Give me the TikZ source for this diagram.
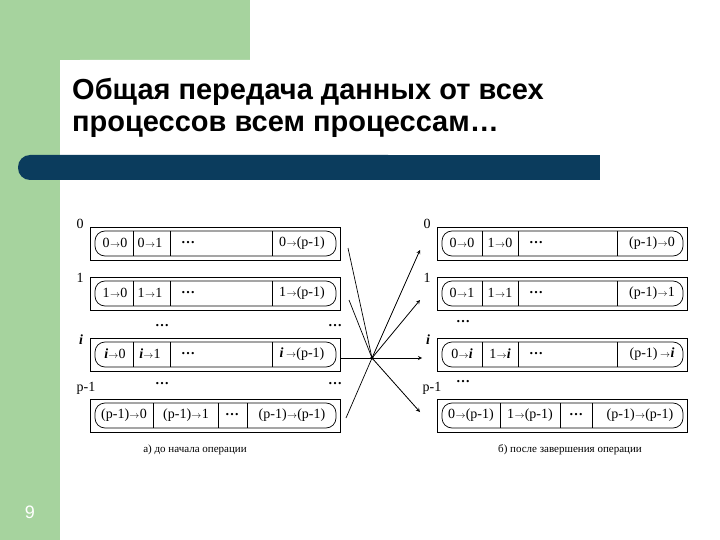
\documentclass[tikz,border=0pt]{standalone}
\usepackage{fontspec}
\setmainfont{Liberation Serif}
\newfontfamily\titlefont{Liberation Sans}
\begin{document}
\begin{tikzpicture}[x=1pt,y=-1pt,
  outer/.style={draw,line width=0.9pt},
  inner/.style={draw,line width=0.7pt,rounded corners=10pt},
  cell/.style={font=\fontsize{14}{15}\selectfont,anchor=center,inner sep=0pt},
  lab/.style={font=\fontsize{14}{15}\selectfont,inner sep=0pt},
  dots/.style={font=\bfseries\fontsize{14}{15}\selectfont,inner sep=0pt},
  ln/.style={line width=0.7pt},
  arr/.style={line width=0.8pt,-stealth}]
\useasboundingbox (0,0) rectangle (720,540);
\fill[white] (0,0) rectangle (720,540);
\definecolor{gr}{HTML}{A6D39E}
\definecolor{bl}{HTML}{0B3C5D}
\fill[gr] (0,0) rectangle (60,540);
\fill[gr] (0,0) rectangle (250,60);
\fill[white,rounded corners=20pt] (60,60) rectangle (740,560);
\fill[bl,rounded corners=12pt] (18,155) rectangle (400,180);
\fill[bl] (300,155) rectangle (600,180);
\node[font=\titlefont\bfseries\fontsize{29}{31}\selectfont,anchor=west,inner sep=0pt] (t1) at (72,92) {Общая передача данных от всех};
\node[font=\titlefont\bfseries\fontsize{29}{31}\selectfont,anchor=west,inner sep=0pt] (t2) at (72,127) {процессов всем процессам…};
\node[font=\titlefont\fontsize{18}{20}\selectfont,white] (num) at (30,512) {9};
\newcommand{\tr}{\kern0.3pt{\fontsize{10}{10}\selectfont$\to$}\kern0.3pt}
\foreach \yt in {227,277,338,399}{
  \draw[outer] (90,\yt) rectangle (340,\yt+33);
  \draw[inner] (95,\yt+4) rectangle (336,\yt+29);
  \draw[outer] (437,\yt) rectangle (687,\yt+33);
  \draw[inner] (442,\yt+4) rectangle (683,\yt+29);
}
\foreach \yt in {227,277,338}{
  \foreach \x in {133,170,272} \draw[ln] (\x,\yt+4) -- (\x,\yt+29);
  \foreach \x in {482,518,617} \draw[ln] (\x,\yt+4) -- (\x,\yt+29);
}
\foreach \x in {153,218,247} \draw[ln] (\x,403) -- (\x,428);
\foreach \x in {500,560,592} \draw[ln] (\x,403) -- (\x,428);
% left texts
\node[cell] (l00) at (115,243) {0\tr0};
\node[cell] (l01) at (150,243) {0\tr1};
\node[cell] (l0d) at (188,243) {\textbf{…}};
\node[cell] (l0p) at (302,243) {0\tr(p-1)};
\node[cell] (l10) at (115,293) {1\tr0};
\node[cell] (l11) at (150,293) {1\tr1};
\node[cell] (l1d) at (188,293) {\textbf{…}};
\node[cell] (l1p) at (302,293) {1\tr(p-1)};
\node[cell] (li0) at (115,354) {\textit{\textbf{i}}\tr0};
\node[cell] (li1) at (150,354) {\textit{\textbf{i}}\tr1};
\node[cell] (lid) at (188,354) {\textbf{…}};
\node[cell] (lip) at (302,354) {\textit{\textbf{i}}\,\tr(p-1)};
\node[cell] (lp0) at (124,415) {(p-1)\tr0};
\node[cell] (lp1) at (186,415) {(p-1)\tr1};
\node[cell] (lpd) at (232,415) {\textbf{…}};
\node[cell] (lpp) at (292,415) {(p-1)\tr(p-1)};
% right texts
\node[cell] (r00) at (462,243) {0\tr0};
\node[cell] (r01) at (500,243) {1\tr0};
\node[cell] (r0d) at (536,243) {\textbf{…}};
\node[cell] (r0p) at (652,243) {(p-1)\tr0};
\node[cell] (r10) at (462,293) {0\tr1};
\node[cell] (r11) at (500,293) {1\tr1};
\node[cell] (r1d) at (536,293) {\textbf{…}};
\node[cell] (r1p) at (652,293) {(p-1)\tr1};
\node[cell] (ri0) at (462,354) {0\tr\textit{\textbf{i}}};
\node[cell] (ri1) at (500,354) {1\tr\textit{\textbf{i}}};
\node[cell] (rid) at (536,354) {\textbf{…}};
\node[cell] (rip) at (652,354) {(p-1)\,\tr\textit{\textbf{i}}};
\node[cell] (rp0) at (471,415) {0\tr(p-1)};
\node[cell] (rp1) at (530,415) {1\tr(p-1)};
\node[cell] (rpd) at (576,415) {\textbf{…}};
\node[cell] (rpp) at (640,415) {(p-1)\tr(p-1)};
% labels
\node[lab] (L0) at (80,224) {0};
\node[lab] (L1) at (80,278) {1};
\node[lab] (Li) at (81,340) {\textit{\textbf{i}}};
\node[lab] (Lp) at (86,388) {p-1};
\node[lab] (R0) at (427,224) {0};
\node[lab] (R1) at (427,278) {1};
\node[lab] (Ri) at (428,340) {\textit{\textbf{i}}};
\node[lab] (Rp) at (432,388) {p-1};
\node[dots] (d1) at (162,326) {…};
\node[dots] (d2) at (335,326) {…};
\node[dots] (d3) at (162,384) {…};
\node[dots] (d4) at (335,384) {…};
\node[dots] (d5) at (463,322) {…};
\node[dots] (d6) at (463,382) {…};
\node[font=\fontsize{11}{12}\selectfont] (ca) at (195,450) {а) до начала операции};
\node[font=\fontsize{11}{12}\selectfont] (cb) at (570,450) {б) после завершения операции};
% connectors
\coordinate (c) at (372,358);
\fill (c) circle (1.8pt);
\coordinate (s1) at (348,248);
\coordinate (s2) at (349,300);
\coordinate (s3) at (340,358);
\coordinate (s4) at (346,418);
\coordinate (e1) at (420,250);
\coordinate (e2) at (420,300);
\coordinate (e3) at (422,358);
\coordinate (e4) at (420,412);
\foreach \s in {s1,s2,s3,s4} \draw[ln] (\s) -- (c);
\foreach \e in {e1,e2,e3,e4} \draw[arr] (c) -- (\e);
\end{tikzpicture}
\end{document}
